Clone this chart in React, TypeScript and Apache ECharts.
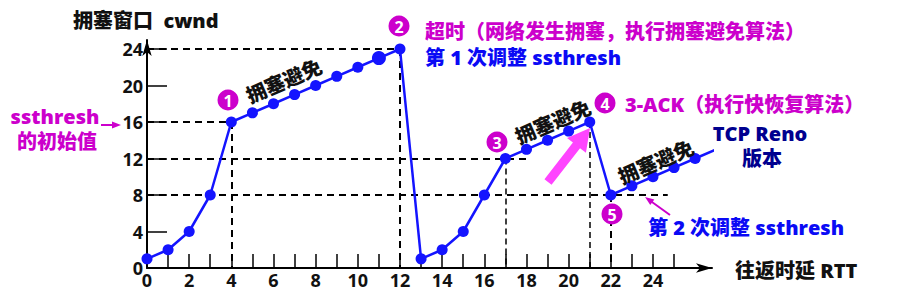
import React, { useEffect, useRef } from "react";
import * as echarts from "echarts";

// ---- data ----
const rtt = [0, 1, 2, 3, 4, 5, 6, 7, 8, 9, 10, 11, 12, 13, 14, 15, 16, 17, 18, 19, 20, 21, 22, 23, 24, 25, 26, 27];
const cwnd = [1, 2, 4, 8, 16, 17, 18, 19, 20, 21, 22, 23, 24, 1, 2, 4, 8, 12, 13, 14, 15, 16, 8, 9, 10, 11, 12, 13];
const xTickValues = [1, 2, 3, 4, 5, 6, 7, 8, 9, 10, 11, 12, 13, 14, 15, 16, 17, 18, 19, 20, 21, 22, 23, 24, 25];
const xLabelValues = [0, 2, 4, 6, 8, 10, 12, 14, 16, 18, 20, 22, 24];
const yTickValues = [4, 8, 12, 16, 20, 24];
const yLabelValues = [0, 4, 8, 12, 16, 20, 24];
// guide lines: [x1, y1, x2, y2, thin]
const guides: [number, number, number, number, boolean][] = [
  [0, 24, 12, 24, false],
  [12, 24, 12, 0, false],
  [0, 16, 4, 16, false],
  [4, 16, 4, 0, false],
  [0, 12, 18.2, 12, false],
  [17, 12, 17, 0, true],
  [0, 8, 24.7, 8, false],
  [21, 16, 21, 0, true],
  [22, 8, 22, 0, false],
];

const FONT = '"Open Sans", "Noto Sans CJK SC", sans-serif';
const MAGENTA = "#cc00cc";
const BLUE = "#0a0af5";
const NAVY = "#00008f";
const LINE_BLUE = "#1414ff";
const WEIGHT = 900;

function txt(text: string, x: number, y: number, fill: string, align = "left", rotation = 0, size = 20) {
  return {
    type: "text",
    x,
    y,
    rotation,
    z: 20,
    style: { text, fill, fontSize: size, fontWeight: WEIGHT, fontFamily: FONT, align, verticalAlign: "middle" },
  };
}

function badge(n: string, cx: number, cy: number) {
  return [
    { type: "circle", z: 30, shape: { cx, cy, r: 10.5 }, style: { fill: MAGENTA } },
    {
      type: "text",
      z: 31,
      x: cx,
      y: cy + 0.5,
      style: { text: n, fill: "#fff", fontSize: 16, fontWeight: "bold", fontFamily: FONT, align: "center", verticalAlign: "middle" },
    },
  ];
}

function arrow(tx: number, ty: number, hx: number, hy: number, shaftW: number, headW: number, headL: number, fill: string) {
  const dx = hx - tx;
  const dy = hy - ty;
  const len = Math.sqrt(dx * dx + dy * dy);
  const ux = dx / len;
  const uy = dy / len;
  const nx = -uy;
  const ny = ux;
  const bx = hx - ux * headL;
  const by = hy - uy * headL;
  const s = shaftW / 2;
  const h = headW / 2;
  return {
    type: "polygon",
    z: 25,
    shape: {
      points: [
        [tx + nx * s, ty + ny * s],
        [bx + nx * s, by + ny * s],
        [bx + nx * h, by + ny * h],
        [hx, hy],
        [bx - nx * h, by - ny * h],
        [bx - nx * s, by - ny * s],
        [tx - nx * s, ty - ny * s],
      ],
    },
    style: { fill },
  };
}

export default function App() {
  const ref = useRef<HTMLDivElement>(null);
  useEffect(() => {
    const chart = echarts.init(ref.current!, undefined, { renderer: "svg" });
    const ang = 0.41;
    chart.setOption({
      animation: false,
      grid: { left: 147, right: 900 - 712, top: 268 - 25 * 9.125, bottom: 297 - 268 },
      xAxis: {
        type: "value",
        min: 0,
        max: 26.8,
        splitLine: { show: false },
        axisLine: { show: true, symbol: ["none", "arrow"], symbolSize: [7, 16], lineStyle: { color: "#000", width: 2 } },
        axisTick: { show: true, inside: true, length: 14, customValues: xTickValues, lineStyle: { color: "#000", width: 1.5 } },
        axisLabel: {
          customValues: xLabelValues,
          color: "#111",
          fontSize: 18,
          fontWeight: "bold",
          fontFamily: FONT,
          margin: 3,
        },
      },
      yAxis: {
        type: "value",
        min: 0,
        max: 25,
        splitLine: { show: false },
        axisLine: { show: true, symbol: ["none", "arrow"], symbolSize: [7, 16], lineStyle: { color: "#000", width: 2 } },
        axisTick: { show: true, inside: true, length: 20, customValues: yTickValues, lineStyle: { color: "#000", width: 1.5 } },
        axisLabel: {
          customValues: yLabelValues,
          color: "#111",
          fontSize: 18,
          fontWeight: "bold",
          fontFamily: FONT,
          margin: 4,
        },
      },
      series: [
        {
          type: "line",
          z: 1,
          data: [],
          silent: true,
          markLine: {
            silent: true,
            symbol: ["none", "none"],
            label: { show: false },
            data: guides.map((g) => [
              {
                coord: [g[0], g[1]],
                lineStyle: { color: "#000", width: g[4] ? 1.5 : 2, type: g[4] ? [6, 4] : [7, 5] },
              },
              { coord: [g[2], g[3]] },
            ]),
          },
        },
        {
          type: "line",
          z: 5,
          clip: false,
          symbol: "circle",
          symbolSize: 11,
          lineStyle: { color: LINE_BLUE, width: 2.5 },
          itemStyle: { color: LINE_BLUE },
          data: rtt.map((x, i) => {
            if (i === rtt.length - 1) return { value: [x, cwnd[i]], symbol: "none" };
            if (x === 11) return { value: [x, cwnd[i]], symbolSize: 14 };
            return [x, cwnd[i]];
          }),
        },
      ],
      graphic: [
        txt("拥塞窗口  cwnd", 73, 20, "#111"),
        txt("ssthresh", 55, 116, MAGENTA, "center"),
        txt("的初始值", 57, 141, MAGENTA, "center"),
        arrow(101, 125, 121, 125, 2, 7, 9, MAGENTA),
        txt("超时（网络发生拥塞，执行拥塞避免算法）", 425, 31, MAGENTA),
        txt("第 1 次调整 ssthresh", 425, 57, BLUE),
        txt("3-ACK（执行快恢复算法）", 625, 104, MAGENTA),
        txt("TCP Reno", 760, 133, NAVY, "center"),
        txt("版本", 762, 158, NAVY, "center"),
        txt("第 2 次调整 ssthresh", 648, 227, BLUE),
        txt("往返时延 RTT", 735, 270, "#111"),
        txt("拥塞避免", 284, 81, "#111", "center", ang),
        txt("拥塞避免", 553, 122, "#111", "center", ang),
        txt("拥塞避免", 656, 162, "#111", "center", ang),
        ...badge("1", 228, 100),
        ...badge("2", 399, 26),
        ...badge("3", 497, 142),
        ...badge("4", 605, 103),
        ...badge("5", 612, 214),
        arrow(548, 182, 590, 128, 9, 24, 22, "#ff44ff"),
        arrow(670, 215, 645, 197, 2, 7, 9, MAGENTA),
      ],
    });
    return () => chart.dispose();
  }, []);
  return <div ref={ref} style={{ position: "fixed", left: 0, top: 0, width: 900, height: 297, background: "#fff" }} />;
}
